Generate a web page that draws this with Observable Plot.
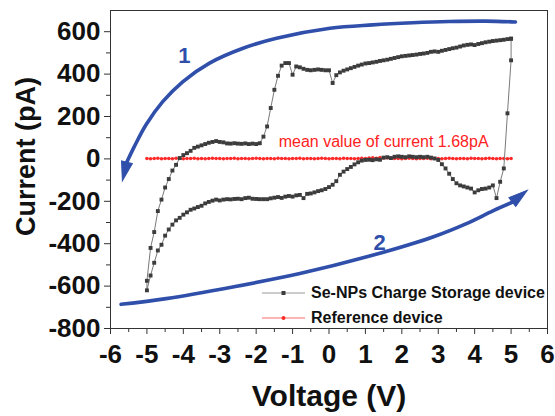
<!DOCTYPE html>
<html>
<head>
<meta charset="utf-8">
<script src="https://cdn.jsdelivr.net/npm/d3@7"></script>
<script src="https://cdn.jsdelivr.net/npm/@observablehq/plot@0.6"></script>
<style>
  html, body { margin: 0; padding: 0; background: #fff; }
  #wrap { position: relative; width: 555px; height: 416px; font-family: "Liberation Sans", Arial, sans-serif; }
  #legend { position: absolute; left: 262px; top: 280px; font: bold 16px "Liberation Sans", Arial, sans-serif; color: #111; }
  .row { display: flex; align-items: center; height: 25px; white-space: nowrap; }
  .row svg { display: block; }
  .row span { margin-left: 6px; }
</style>
</head>
<body>
<div id="wrap"></div>
<script>
// Voltage steps (V)
const voltage = [
  -5.0,-4.9,-4.8,-4.7,-4.6,-4.5,-4.4,-4.3,-4.2,-4.1,
  -4.0,-3.9,-3.8,-3.7,-3.6,-3.5,-3.4,-3.3,-3.2,-3.1,
  -3.0,-2.9,-2.8,-2.7,-2.6,-2.5,-2.4,-2.3,-2.2,-2.1,
  -2.0,-1.9,-1.8,-1.7,-1.6,-1.5,-1.4,-1.3,-1.2,-1.1,
  -1.0,-0.9,-0.8,-0.7,-0.6,-0.5,-0.4,-0.3,-0.2,-0.1,
   0.0, 0.1, 0.2, 0.3, 0.4, 0.5, 0.6, 0.7, 0.8, 0.9,
   1.0, 1.1, 1.2, 1.3, 1.4, 1.5, 1.6, 1.7, 1.8, 1.9,
   2.0, 2.1, 2.2, 2.3, 2.4, 2.5, 2.6, 2.7, 2.8, 2.9,
   3.0, 3.1, 3.2, 3.3, 3.4, 3.5, 3.6, 3.7, 3.8, 3.9,
   4.0, 4.1, 4.2, 4.3, 4.4, 4.5, 4.6, 4.7, 4.8, 4.9,
   5.0
];
// Se-NPs device, sweep 1 (+5 V -> -5 V), listed in ascending voltage order (pA)
const sweep1Current = [
  -575,-420,-345,-246,-192,-135,-95,-55,-28,4,
  18,27,38,52,58,64,70,76,80,84,
  80,78,73,72,74,72,71,73,70,72,
  70,74,105,153,240,326,392,440,452,452,
  397,436,432,425,420,418,420,422,420,418,
  418,358,395,408,416,422,428,434,440,445,
  450,452,455,458,462,465,468,472,476,480,
  484,486,488,490,492,495,497,500,505,507,
  505,510,514,518,522,525,530,535,538,540,
  537,542,546,550,553,556,558,560,562,565,
  567
];
// Se-NPs device, sweep 2 (-5 V -> +5 V) (pA)
const sweep2Current = [
  -620,-550,-490,-432,-405,-362,-333,-310,-290,-278,
  -263,-252,-240,-234,-227,-221,-210,-203,-197,-192,
  -196,-192,-190,-191,-189,-188,-190,-185,-183,-188,
  -189,-190,-190,-190,-186,-183,-180,-184,-178,-175,
  -178,-172,-170,-185,-165,-163,-158,-152,-148,-142,
  -133,-122,-105,-75,-60,-48,-38,-26,-16,-8,
  -5,-4,-6,-2,-4,6,8,4,10,12,
  10,8,12,10,8,10,8,10,6,2,
  -5,-25,-45,-70,-95,-115,-125,-130,-135,-140,
  -158,-148,-142,-140,-135,-125,-185,-108,-45,215,
  465
];
// Reference device (pA)
const refCurrent = [
  2,1,2,3,1,2,2,1,3,2,
  1,2,2,3,1,2,1,2,3,2,
  2,1,2,2,3,1,2,2,1,2,
  3,2,1,2,2,1,3,2,2,1,
  2,2,3,1,2,2,1,2,3,2,
  1,2,2,1,3,2,2,1,2,3,
  2,4,5,3,6,4,5,3,2,2,
  1,2,3,2,1,2,2,3,1,2,
  2,1,2,3,2,1,2,2,1,3,
  2,2,1,2,3,2,1,2,2,1,
  2
];
// Sweep-direction arrows (annotation paths in data units)
const arrow1V = [5.12, 4.3, 3.3, 2.3, 1.2, 0.03, -1.44, -2.36, -3.28, -4.01, -4.56, -5.02, -5.34, -5.55];
const arrow1I = [646, 650, 648, 642, 632, 616, 569, 522, 452, 365, 271, 162, 60, -15];
const arrow2V = [-5.71, -4.47, -2.64, -0.8, 1.04, 2.87, 3.79, 4.5, 5.04];
const arrow2I = [-686, -659, -604, -541, -462, -367, -304, -245, -204];
const arrowHeadV = [-5.59, 5.17];
const arrowHeadI = [-45, -185];
const arrowHeadAngle = [194, 52];
const arrowLabels = ["1", "2"];
const arrowLabelV = [-3.97, 1.39];
const arrowLabelI = [484, -396];
const meanText = "mean value of current 1.68pA";
const meanTextV = 1.5;
const meanTextI = 78;
// Axis ticks
const xTicks = [-6,-5,-4,-3,-2,-1,0,1,2,3,4,5,6];
const xMinor = [-5.5,-4.5,-3.5,-2.5,-1.5,-0.5,0.5,1.5,2.5,3.5,4.5,5.5];
const yTicks = [-800,-600,-400,-200,0,200,400,600];
const yMinor = [-700,-500,-300,-100,100,300,500];
const seriesNames = ["Se-NPs Charge Storage device", "Reference device"];

const blue = "#2f4faa";
// narrow filled arrowhead symbol, centred on its centroid, pointing up before rotation
const headSymbol = {
  draw(context, size) {
    const k = Math.sqrt(size / Math.PI);
    context.moveTo(0, -1.4 * k);
    context.lineTo(0.62 * k, 0.7 * k);
    context.lineTo(-0.62 * k, 0.7 * k);
    context.closePath();
  }
};
const sweep1 = voltage.map((v, i) => ({V: v, I: sweep1Current[i]})).reverse();
const sweep2 = voltage.map((v, i) => ({V: v, I: sweep2Current[i]}));
const loop = [...sweep1, ...sweep2, sweep1[0]];
const ref = voltage.map((v, i) => ({V: v, I: refCurrent[i]}));
const arrow1 = arrow1V.map((v, i) => ({V: v, I: arrow1I[i]}));
const arrow2 = arrow2V.map((v, i) => ({V: v, I: arrow2I[i]}));
const heads = arrowHeadV.map((v, i) => ({V: v, I: arrowHeadI[i], a: arrowHeadAngle[i]}));
const labels = arrowLabels.map((t, i) => ({t, V: arrowLabelV[i], I: arrowLabelI[i]}));

const chart = Plot.plot({
  width: 555,
  height: 416,
  marginLeft: 110,
  marginRight: 8,
  marginTop: 10,
  marginBottom: 88,
  style: {fontFamily: "'Liberation Sans', Arial, sans-serif", background: "white", color: "#111"},
  x: {domain: [-6, 6]},
  y: {domain: [-800, 700]},
  marks: [
    Plot.axisX(xMinor, {tickSize: 4, text: null, label: null, stroke: "#333"}),
    Plot.axisX(xTicks, {tickSize: 6, tickPadding: 10, fontSize: 26, fontWeight: "bold", label: null, stroke: "#333", tickFormat: d => String(d)}),
    Plot.axisY(yMinor, {tickSize: 4, text: null, label: null, stroke: "#333"}),
    Plot.axisY(yTicks, {tickSize: 6, tickPadding: 4, fontSize: 26, fontWeight: "bold", label: null, stroke: "#333", tickFormat: d => String(d)}),
    Plot.frame({stroke: "#333"}),
    Plot.line(arrow1, {x: "V", y: "I", curve: "catmull-rom", stroke: blue, strokeWidth: 3.6}),
    Plot.line(arrow2, {x: "V", y: "I", curve: "catmull-rom", stroke: blue, strokeWidth: 3.6}),
    Plot.dot(heads, {x: "V", y: "I", symbol: headSymbol, r: 9, fill: blue, stroke: blue, strokeWidth: 1, rotate: "a"}),
    Plot.text(labels, {x: "V", y: "I", text: "t", fill: blue, fontSize: 22, fontWeight: "bold"}),
    Plot.line(ref, {x: "V", y: "I", stroke: "#ff4a4a", strokeWidth: 1}),
    Plot.dot(ref, {x: "V", y: "I", r: 1.8, fill: "#ff2a2a", stroke: "none"}),
    Plot.line(loop, {x: "V", y: "I", stroke: "#7a7a7a", strokeWidth: 1}),
    Plot.dot(loop, {x: "V", y: "I", symbol: "square", r: 2.2, fill: "#3c3c3c", stroke: "none"}),
    Plot.text([meanText], {x: () => meanTextV, y: () => meanTextI, fill: "#ff2222", fontSize: 16}),
    Plot.text(["Current (pA)"], {frameAnchor: "left", dx: -84, dy: -13, rotate: -90, textAnchor: "middle", lineAnchor: "middle", fontSize: 27, fontWeight: "bold", fill: "#111"}),
    Plot.text(["Voltage (V)"], {frameAnchor: "bottom", dy: 68, textAnchor: "middle", lineAnchor: "middle", fontSize: 30, fontWeight: "bold", fill: "#111"})
  ]
});
const wrap = document.getElementById("wrap");
wrap.appendChild(chart);

// Legend
const legend = document.createElement("div");
legend.id = "legend";
const samples = [
  {line: "#9a9a9a", marker: `<rect x="19.5" y="4" width="4" height="4" fill="#3c3c3c"/>`},
  {line: "#ff6a6a", marker: `<circle cx="21.5" cy="6" r="2" fill="#ff2a2a"/>`}
];
seriesNames.forEach((name, i) => {
  const row = document.createElement("div");
  row.className = "row";
  row.innerHTML = `<svg width="43" height="12"><line x1="0" x2="43" y1="6" y2="6" stroke="${samples[i].line}" stroke-width="1.2"/>${samples[i].marker}</svg><span>${name}</span>`;
  legend.appendChild(row);
});
wrap.appendChild(legend);
</script>
</body>
</html>
